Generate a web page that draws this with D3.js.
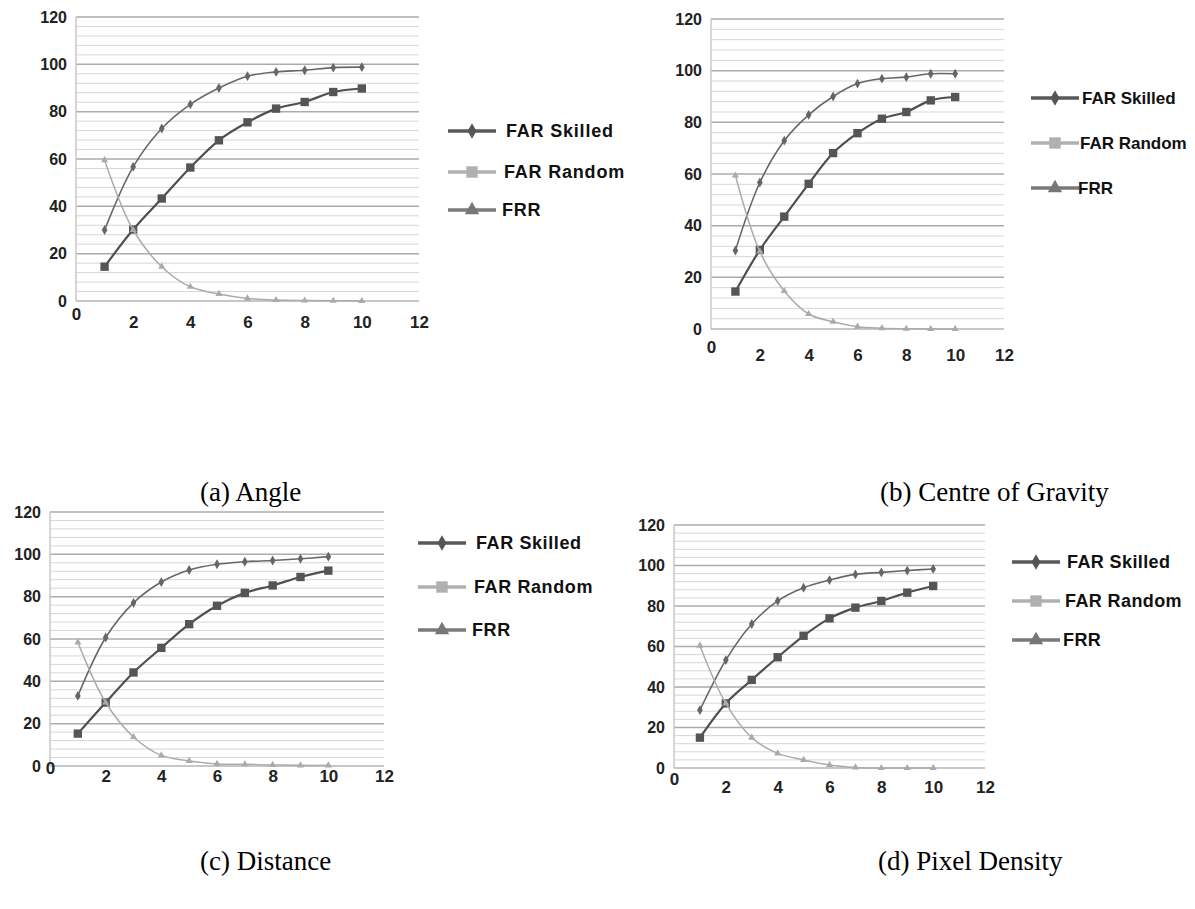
<!DOCTYPE html>
<html>
<head>
<meta charset="utf-8">
<script src="https://cdn.jsdelivr.net/npm/d3@7"></script>
<style>
  body { margin: 0; background: #fff; }
  svg { display: block; }
</style>
</head>
<body>
<svg id="chart" width="1195" height="909"></svg>
<script>
// data
var runs = [1, 2, 3, 4, 5, 6, 7, 8, 9, 10];
var xTicks = [0, 2, 4, 6, 8, 10, 12];
var yTicks = [0, 20, 40, 60, 80, 100, 120];
var seriesNames = ['FAR Skilled', 'FAR Random', 'FRR'];

var angleSkilled = [30, 56.7, 72.9, 83.1, 90, 95, 96.8, 97.5, 98.6, 98.8];
var angleRandom = [14.5, 30.2, 43.3, 56.4, 67.9, 75.5, 81.3, 84.1, 88.3, 89.8];
var angleFrr = [59.5, 30, 14.5, 6, 3, 1.1, 0.4, 0.2, 0.1, 0];

var gravitySkilled = [30.4, 56.7, 72.9, 82.9, 90, 95, 96.9, 97.5, 98.8, 98.8];
var gravityRandom = [14.5, 30.6, 43.5, 56.2, 68.1, 75.8, 81.4, 84, 88.5, 89.8];
var gravityFrr = [59.4, 30, 14.7, 5.8, 2.8, 0.9, 0.3, 0.1, 0, 0];

var distanceSkilled = [33.1, 60.7, 77.1, 86.9, 92.6, 95.3, 96.5, 97.1, 97.9, 98.9];
var distanceRandom = [15.3, 30, 44.2, 55.8, 67, 75.7, 81.8, 85.3, 89.3, 92.3];
var distanceFrr = [58.4, 30, 13.7, 5, 2.4, 1, 0.8, 0.5, 0.3, 0.3];

var pixelSkilled = [28.6, 53.3, 71.1, 82.5, 89, 92.8, 95.6, 96.6, 97.5, 98.3];
var pixelRandom = [15, 31.9, 43.5, 54.7, 65.3, 73.9, 79.2, 82.5, 86.6, 89.9];
var pixelFrr = [60.4, 31.9, 15, 7.2, 4, 1.5, 0.3, 0, 0, 0];

var captions = ['(a) Angle', '(b) Centre of Gravity', '(c) Distance', '(d) Pixel Density'];

var svg = d3.select('#chart');

// panel boxes, in page pixels
var panels = [
  {data: [angleSkilled, angleRandom, angleFrr], x0: 76, x1: 419, top: 17, bot: 301, xdy: 27,
   legX: 448, legY: [131, 172, 210], legFont: 18, legSp: 0.8, legGap: 58, capX: 200, capY: 501},
  {data: [gravitySkilled, gravityRandom, gravityFrr], x0: 711, x1: 1004, top: 19, bot: 329, xdy: 32,
   legX: 1031, legY: [98, 143, 188], legFont: 17, legSp: 0, legGap: 51, capX: 880, capY: 501},
  {data: [distanceSkilled, distanceRandom, distanceFrr], x0: 50, x1: 384, top: 512, bot: 766, xdy: 16,
   legX: 418, legY: [543, 587, 630], legFont: 18, legSp: 0.6, legGap: 58, capX: 200, capY: 870},
  {data: [pixelSkilled, pixelRandom, pixelFrr], x0: 674, x1: 985, top: 525, bot: 768, xdy: 25,
   legX: 1012, legY: [562, 601, 640], legFont: 18, legSp: 0.4, legGap: 55, capX: 878, capY: 870}
];

// looks of the three series inside the plot
var lineStyle = [
  {stroke: '#676767', width: 1.6, sym: d3.symbolDiamond, size: 28, fill: '#666'},
  {stroke: '#4f4f4f', width: 2.2, sym: d3.symbolSquare, size: 70, fill: '#555'},
  {stroke: '#ababab', width: 1.5, sym: d3.symbolTriangle, size: 22, fill: '#aaa'}
];
// and inside the legend
var legStyle = [
  {stroke: '#595959', sym: d3.symbolDiamond, size: 70, fill: '#555'},
  {stroke: '#b0b0b0', sym: d3.symbolSquare, size: 130, fill: '#b0b0b0'},
  {stroke: '#7a7a7a', sym: d3.symbolTriangle, size: 90, fill: '#777'}
];

function drawPanel(p, idx) {
  var x = d3.scaleLinear().domain([0, 12]).range([p.x0, p.x1]);
  var y = d3.scaleLinear().domain([0, 120]).range([p.bot, p.top]);
  var g = svg.append('g');

  // minor grid every 4, major every 20
  g.selectAll('line.minor')
    .data(d3.range(4, 120, 4).filter(function(v) { return v % 20 != 0; }))
    .enter().append('line')
    .attr('x1', p.x0).attr('x2', p.x1)
    .attr('y1', function(d) { return y(d); }).attr('y2', function(d) { return y(d); })
    .attr('stroke', '#d6d6d6').attr('stroke-width', 1);
  g.selectAll('line.major')
    .data(yTicks.slice(1))
    .enter().append('line')
    .attr('x1', p.x0).attr('x2', p.x1)
    .attr('y1', function(d) { return y(d); }).attr('y2', function(d) { return y(d); })
    .attr('stroke', '#ababab').attr('stroke-width', 1.5);

  // axis lines
  g.append('line').attr('x1', p.x0).attr('x2', p.x0).attr('y1', p.top).attr('y2', p.bot)
    .attr('stroke', '#c8c8c8').attr('stroke-width', 1.5);
  g.append('line').attr('x1', p.x0).attr('x2', p.x1).attr('y1', p.bot).attr('y2', p.bot)
    .attr('stroke', '#b5b5b5').attr('stroke-width', 1.5);

  // tick labels
  var yAxis = g.append('g').attr('transform', 'translate(' + (p.x0 - 9) + ',0)')
    .call(d3.axisLeft(y).tickValues(yTicks).tickSize(0).tickPadding(0));
  yAxis.select('.domain').remove();
  yAxis.selectAll('text').attr('font-family', 'Liberation Sans, Arial, sans-serif')
    .attr('font-weight', 'bold').attr('font-size', 16).attr('fill', '#222');

  var xAxis = g.append('g').attr('transform', 'translate(0,' + p.bot + ')')
    .call(d3.axisBottom(x).tickValues(xTicks).tickSize(0).tickPadding(0));
  xAxis.select('.domain').remove();
  xAxis.selectAll('text').attr('font-family', 'Liberation Sans, Arial, sans-serif')
    .attr('font-weight', 'bold').attr('font-size', 17).attr('fill', '#222')
    .attr('dy', null).attr('y', function(d) { return d == 0 ? p.xdy - 8 : p.xdy; });

  // the curves
  var line = d3.line()
    .x(function(d, i) { return x(runs[i]); })
    .y(function(d) { return y(d); })
    .curve(d3.curveCatmullRom);

  p.data.forEach(function(vals, s) {
    var st = lineStyle[s];
    g.append('path').attr('d', line(vals))
      .attr('fill', 'none').attr('stroke', st.stroke).attr('stroke-width', st.width);
    g.selectAll('path.m' + s)
      .data(vals)
      .enter().append('path')
      .attr('class', 'm' + s)
      .attr('transform', function(d, i) { return 'translate(' + x(runs[i]) + ',' + y(d) + ')'; })
      .attr('d', d3.symbol().type(st.sym).size(st.size))
      .attr('fill', st.fill);
  });

  // legend
  seriesNames.forEach(function(name, s) {
    var ly = p.legY[s], ls = legStyle[s];
    g.append('line').attr('x1', p.legX).attr('x2', p.legX + 48).attr('y1', ly).attr('y2', ly)
      .attr('stroke', ls.stroke).attr('stroke-width', 3.5);
    g.append('path').attr('transform', 'translate(' + (p.legX + 24) + ',' + ly + ')')
      .attr('d', d3.symbol().type(ls.sym).size(ls.size)).attr('fill', ls.fill);
    g.append('text').attr('x', p.legX + p.legGap - s * 2).attr('y', ly).attr('dy', '0.35em')
      .attr('font-family', 'Liberation Sans, Arial, sans-serif').attr('font-weight', 'bold')
      .attr('font-size', p.legFont).attr('letter-spacing', p.legSp).attr('fill', '#111')
      .text(name);
  });

  // caption under the panel
  svg.append('text').attr('x', p.capX).attr('y', p.capY)
    .attr('font-family', 'Liberation Serif, Times New Roman, serif')
    .attr('font-size', 27).attr('fill', '#000')
    .text(captions[idx]);
}

panels.forEach(drawPanel);
</script>
</body>
</html>
